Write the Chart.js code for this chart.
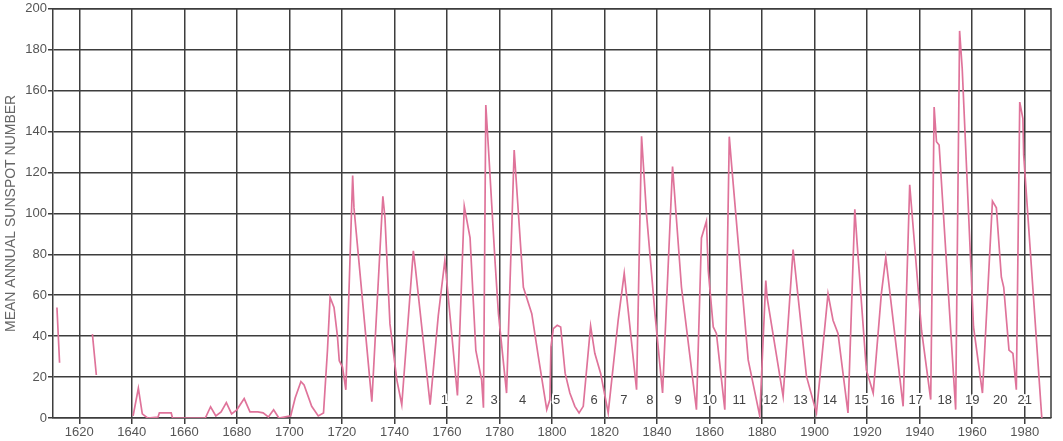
<!DOCTYPE html>
<html><head><meta charset="utf-8">
<script src="https://cdn.jsdelivr.net/npm/chart.js@4/dist/chart.umd.min.js"></script>
<style>html,body{margin:0;padding:0;background:#fff}#wrap{width:1063px;height:441px}</style>
</head><body><div id="wrap"><canvas id="c" width="1063" height="441"></canvas></div>
<script>
// Year (fractional) and mean annual sunspot number; null = gap in record
const years = [
  1611.5, 1612.5, 1618, 1625, 1626.5, 1633,
  1640.5, 1642.5, 1644, 1646, 1650, 1650.5, 1655, 1655.5, 1668, 1670, 1672, 1674, 1676, 1678, 1680,
  1682.8, 1685, 1688, 1690, 1692, 1694, 1696, 1700.5, 1702.2, 1704.4, 1705.6, 1708.5, 1711, 1713,
  1714.5, 1715.5, 1717, 1718.3, 1719, 1720.2, 1720.8, 1721.5, 1724.1, 1724.6, 1731.4,
  1735.6, 1736.4, 1738.3, 1740.9, 1742.8, 1747.2, 1747.9, 1753.6, 1756.7, 1759.2, 1764,
  1766.6, 1768.8, 1771, 1773.2, 1773.9, 1774.8, 1775.8, 1778.3, 1779.6, 1782.7,
  1785.6, 1789.1, 1792.3, 1794.8, 1798, 1799.2, 1799.6, 1800.5, 1802, 1803.3, 1805, 1806.8,
  1808.7, 1810.3, 1811.9, 1814.7, 1816.3, 1818.5, 1821.4, 1825.2, 1827.5, 1829.4, 1832.2,
  1834.1, 1836, 1839.2, 1842.1, 1845.9, 1849.3, 1855, 1856.9, 1858.8, 1859.5, 1861.4, 1862.6,
  1865.8, 1867.5, 1868.4, 1874.7, 1879.1, 1881.4, 1881.9, 1888, 1891.8, 1896.9, 1900.7,
  1905.1, 1907, 1908.9, 1912.7, 1915.3, 1916.2, 1919.7, 1922.3, 1925.4, 1927.1, 1933.7,
  1936.2, 1940.7, 1944.2, 1945.5, 1946.4, 1947.4, 1953.7, 1955.2, 1956.2, 1960.5, 1963.9,
  1967.7, 1969.2, 1971.1, 1972, 1974, 1975.5, 1976.8, 1978.1, 1979.3, 1979.6, 1986.5
];
const sunspots = [
  54, 27, null, 41, 21, null,
  1, 14.5, 2, 0, 0.5, 2.5, 2.5, 0, 0, 5.5, 1, 3, 7.5, 2, 4,
  9.5, 3, 3, 2.5, 0.5, 4, 0, 1, 9.8, 17.8, 16.2, 5.7, 1, 2.5,
  33, 59, 54, 40, 28, 25, 20, 13.8, 118.5, 102.7, 8,
  108.4, 97.8, 46, 18.7, 6.5, 81.7, 74.4, 6.5, 50, 77, 11,
  103.5, 88, 33, 18.7, 5, 153, 131.8, 76.8, 51, 12.2,
  131, 63.9, 51, 30, 4.1, 9, 34.8, 43.7, 45.3, 44.5, 21.9, 12.2,
  5.7, 2.5, 5.7, 45, 31.6, 21.9, 2.5, 47.8, 70.7, 47.8, 13.8,
  137.7, 99.5, 51, 12.2, 122.9, 63.9, 4.1, 88, 96.2, 72, 44.5, 41.3,
  4.1, 137.5, 123.5, 28.4, 1, 67.2, 59, 10.6, 82.3, 20.3, 2.5,
  60.7, 47.8, 41.3, 2.5, 102, 85, 23.5, 12.2, 60.7, 78.5, 5.7,
  114, 42.9, 9, 152, 135, 133.4, 4.1, 189.2, 170.6, 44.5, 12.2,
  106, 102.7, 68.8, 63.9, 33.2, 31.6, 13.8, 154.4, 146.3, 128.6, 0
];
const xTicks = [1620,1640,1660,1680,1700,1720,1740,1760,1780,1800,1820,1840,1860,1880,1900,1920,1940,1960,1980];
const xTickLabels = ['1620','1640','1660','1680','1700','1720','1740','1760','1780','1800','1820','1840','1860','1880','1900','1920','1940','1960','1980'];
const yTicks = [0,20,40,60,80,100,120,140,160,180,200];
const cycleYears = [1759,1768.5,1778,1788.8,1801.8,1816,1827.4,1837.3,1848,1860.1,1871.3,1883.2,1894.6,1905.8,1917.8,1927.7,1938.5,1949.5,1960,1970.7,1980];
const cycleLabels = ['1','2','3','4','5','6','7','8','9','10','11','12','13','14','15','16','17','18','19','20','21'];
const cycleLabelLevel = 8.5;

const GRID = '#3d3d3d';
const TXT = '#555';
const FONT = "'Liberation Sans', Arial, Helvetica, sans-serif";

const points = years.map((x, i) => ({x, y: sunspots[i]}));

const framePlugin = {
  id: 'frame',
  afterDraw(chart) {
    const {ctx, chartArea: a} = chart;
    ctx.save();
    ctx.strokeStyle = GRID; ctx.lineWidth = 1.5;
    ctx.beginPath();
    ctx.moveTo(a.left, a.top); ctx.lineTo(a.right, a.top); ctx.lineTo(a.right, a.bottom);
    ctx.stroke();
    // cycle numbers
    const xs = chart.scales.x, ys = chart.scales.y;
    ctx.font = "13px " + FONT;
    ctx.textAlign = 'center'; ctx.textBaseline = 'middle';
    cycleLabels.forEach((t, i) => {
      const px = xs.getPixelForValue(cycleYears[i]);
      const py = ys.getPixelForValue(cycleLabelLevel);
      ctx.strokeStyle = '#fff'; ctx.lineWidth = 4; ctx.lineJoin = 'round';
      ctx.strokeText(t, px, py);
      ctx.fillStyle = '#444';
      ctx.fillText(t, px, py);
    });
    ctx.restore();
  }
};

new Chart(document.getElementById('c'), {
  type: 'line',
  data: { datasets: [{
    data: points,
    borderColor: '#df739a',
    borderWidth: 1.7,
    pointRadius: 0,
    tension: 0,
    spanGaps: false,
    fill: false
  }]},
  options: {
    responsive: false,
    animation: false,
    devicePixelRatio: 1,
    layout: { padding: { top: 6, right: 12, left: 0, bottom: 0 } },
    plugins: { legend: { display: false }, tooltip: { enabled: false } },
    scales: {
      x: {
        type: 'linear', min: 1610, max: 1990,
        afterBuildTicks: s => { s.ticks = xTicks.map(v => ({value: v})); },
        afterFit: s => { s.height = 23; },
        grid: { color: GRID, lineWidth: 1.5, tickLength: 6, drawTicks: true },
        border: { color: GRID, width: 1.5 },
        ticks: {
          color: TXT, font: { family: FONT, size: 13 }, padding: 1, maxRotation: 0,
          autoSkip: false,
          callback: (v) => { const i = xTicks.indexOf(v); return i >= 0 ? xTickLabels[i] : ''; }
        }
      },
      y: {
        min: 0, max: 200,
        afterBuildTicks: s => { s.ticks = yTicks.map(v => ({value: v})); },
        afterFit: s => { s.width = 53; },
        grid: { color: GRID, lineWidth: 1.5, tickLength: 5 },
        border: { color: GRID, width: 1.5 },
        ticks: { color: TXT, font: { family: FONT, size: 13 }, padding: 1 },
        title: {
          display: true, text: 'MEAN ANNUAL SUNSPOT NUMBER',
          color: '#666', font: { family: FONT, size: 14 }, padding: { top: 3, bottom: 0 }
        }
      }
    }
  },
  plugins: [framePlugin]
});
</script>
</body></html>
